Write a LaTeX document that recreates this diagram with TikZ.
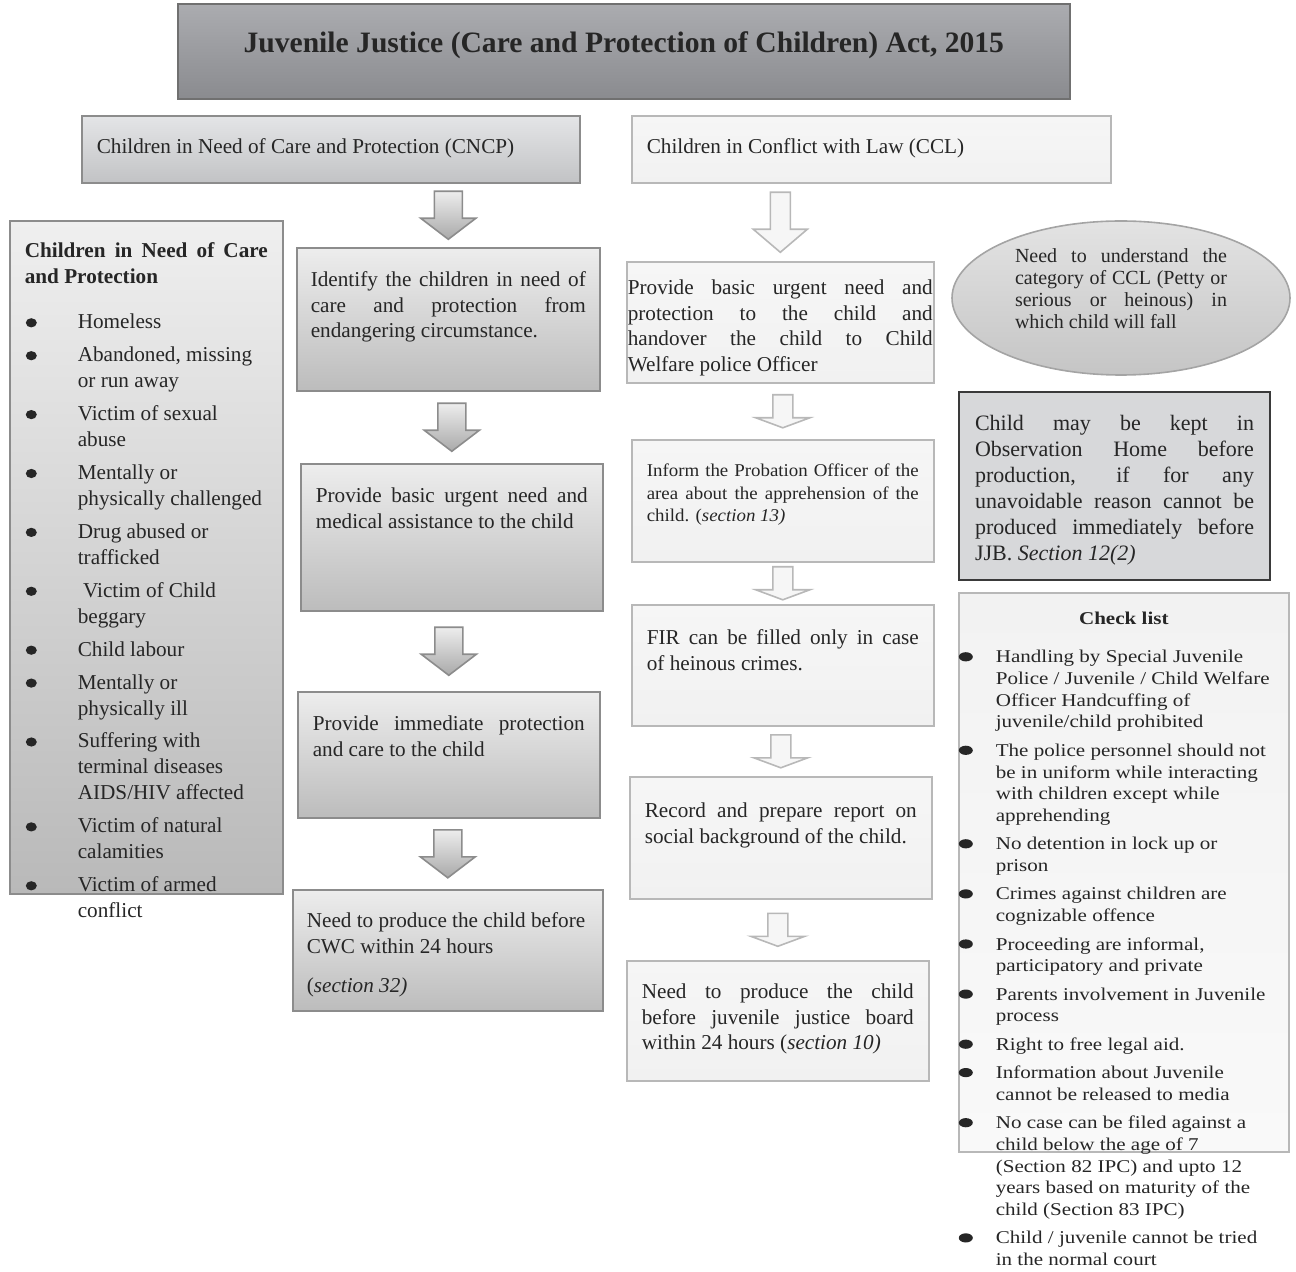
\documentclass[tikz,border=0pt]{standalone}
\usepackage{fontspec}
\setmainfont{Liberation Serif}
\newfontfamily\checkfont[FakeStretch=1.17]{Liberation Serif}
\newfontfamily\informfont[FakeStretch=1.05]{Liberation Serif}
\usepackage{graphicx}
\usepackage{xcolor}
\usetikzlibrary{calc,shapes.geometric}

\definecolor{ink}{HTML}{262626}
\definecolor{titletop}{HTML}{ABACB0}
\definecolor{titlebot}{HTML}{8A8B8F}
\definecolor{headtop}{HTML}{E4E5E7}
\definecolor{headbot}{HTML}{C2C3C5}
\definecolor{listtop}{HTML}{EFEFEF}
\definecolor{listbot}{HTML}{B9B9B9}
\definecolor{greytop}{HTML}{EDEDED}
\definecolor{greybot}{HTML}{BCBCBC}
\definecolor{greyline}{HTML}{8C8C8C}
\definecolor{paletop}{HTML}{F6F6F6}
\definecolor{palebot}{HTML}{F1F1F1}
\definecolor{paleline}{HTML}{B8B8B8}
\definecolor{checktop}{HTML}{F2F2F2}
\definecolor{checkbot}{HTML}{F9F9F9}
\definecolor{ovaltop}{HTML}{E3E3E3}
\definecolor{ovalbot}{HTML}{C5C5C5}
\definecolor{ovalline}{HTML}{A4A4A4}
\definecolor{jjbfill}{HTML}{D7D8DA}
\definecolor{jjbline}{HTML}{3A3A3A}

% text block inside a box: width, height, first baseline, text
\newcommand{\boxtext}[4]{\parbox[c][#2][t]{#1}{\rule{0pt}{#3}#4}}
% big round bullet, x radius given
\newcommand{\dotmark}[1]{\tikz[baseline={(0,-3pt)}]\fill[ink] (0,0) ellipse (#1 and 2.3pt);}
% list items
\newcommand{\listitem}[1]{\par\vspace{3.45pt}\hangindent=26.5pt\hangafter=1\noindent\makebox[26.5pt][l]{\hspace{0.5pt}\dotmark{2.75pt}}#1}
\newcommand{\checkitem}[1]{\par\vspace{3.35pt}\hangindent=18.5pt\hangafter=1\noindent\makebox[18.5pt][l]{\dotmark{3.5pt}}#1}
% block arrow between two boxes: style, from, to, half length, shaft half width, head half width, head length
\newcommand{\blockarrow}[7]{%
  \draw[#1] ($(#3.north |- #2.south)!.5!(#3.north)+(-#5,-#4)$) -- ++(0,2*#4-#7) -- ++(#5-#6,0)
    -- ++(#6,#7) -- ++(#6,-#7) -- ++(#5-#6,0) -- ++(0,-2*#4+#7) -- cycle;}

\tikzset{
  box/.style={draw, anchor=north west, inner ysep=0pt, inner xsep=7.5pt, line width=0.8pt,
    text=ink, font=\fontsize{10.6}{12.75}\selectfont},
  titlebox/.style={box, draw=greyline!80!black, top color=titletop, bottom color=titlebot,
    inner xsep=0pt, font=\bfseries\fontsize{14.8}{17}\selectfont},
  headbox/.style={box, draw=greyline, top color=headtop, bottom color=headbot},
  listbox/.style={box, draw=greyline, top color=listtop, bottom color=listbot},
  greybox/.style={box, draw=greyline, top color=greytop, bottom color=greybot},
  palebox/.style={box, draw=paleline, top color=paletop, bottom color=palebot},
  checkbox/.style={box, draw=paleline, top color=checktop, bottom color=checkbot, inner xsep=0pt},
  jjbbox/.style={box, draw=jjbline, fill=jjbfill, line width=1pt, inner xsep=8pt,
    font=\fontsize{11}{13}\selectfont},
  ovalbox/.style={ellipse, draw=ovalline, line width=0.8pt, top color=ovaltop, bottom color=ovalbot,
    inner sep=0pt, minimum width=169pt, minimum height=77pt, text height=0pt, text depth=0pt,
    text=ink, font=\fontsize{10}{11}\selectfont},
  greyarrow/.style={draw=greyline, line width=0.8pt, top color=greytop, bottom color=greybot!90!black},
  palearrow/.style={draw=paleline, line width=0.8pt, fill=paletop},
}

\begin{document}
\begin{tikzpicture}[x=0.5pt, y=-0.5pt]
\useasboundingbox (0,0) rectangle (1296,1272);

% Title
\node[titlebox] (act) at (177,3) {\boxtext{446pt}{47.5pt}{24.5pt}{\centering Juvenile Justice (Care and Protection of Children) Act, 2015}};

% Two branches
\node[headbox] (cncp) at (81,115) {\boxtext{234pt}{33.5pt}{19pt}{Children in Need of Care and Protection (CNCP)}};
\node[palebox] (ccl) at (631,115) {\boxtext{224.5pt}{33.5pt}{19pt}{Children in Conflict with Law (CCL)}};

% Who is a CNCP
\node[listbox, font=\fontsize{10.6}{13}\selectfont] (cats) at (9,220) {\boxtext{121.5pt}{336.5pt}{18.5pt}{%
  {\bfseries Children in Need of Care\linebreak and Protection}\par\vspace{6.05pt}\raggedright
  \listitem{Homeless}
  \listitem{Abandoned, missing\newline or run away}
  \listitem{Victim of sexual\newline abuse}
  \listitem{Mentally or\newline physically challenged}
  \listitem{Drug abused or\newline trafficked}
  \listitem{\ Victim of Child\newline beggary}
  \listitem{Child labour}
  \listitem{Mentally or\newline physically ill}
  \listitem{Suffering with\newline terminal diseases\newline AIDS/HIV affected}
  \listitem{Victim of natural\newline calamities}
  \listitem{Victim of armed\newline conflict}}};

% CNCP steps
\node[greybox, inner xsep=7pt] (identify) at (296,247) {\boxtext{137.5pt}{71.5pt}{19.5pt}{Identify the children in need of\linebreak care and protection from\linebreak endangering circumstance.}};
\node[greybox] (medical) at (300,463) {\boxtext{136pt}{73.5pt}{19.5pt}{Provide basic urgent need and\linebreak medical assistance to the child}};
\node[greybox] (protect) at (297,691) {\boxtext{136pt}{63pt}{19.5pt}{Provide immediate protection\linebreak and care to the child}};
\node[greybox, inner xsep=7pt] (cwc) at (292,889) {\boxtext{141pt}{60.5pt}{19pt}{Need to produce the child before\\ CWC within 24 hours\\[6.75pt] (\textit{section 32)}}};

% CCL steps
\node[palebox, inner xsep=0.5pt] (handover) at (626,261) {\boxtext{152.5pt}{60.5pt}{16.5pt}{Provide basic urgent need and\linebreak protection to the child and\linebreak handover the child to Child\linebreak Welfare police Officer}};
\node[palebox, font=\informfont\fontsize{9}{11.25}\selectfont] (inform) at (631,439) {\boxtext{136pt}{61pt}{18.5pt}{Inform the Probation Officer of the\linebreak area about the apprehension of the\linebreak child. (\textit{section 13)}}};
\node[palebox] (fir) at (631,604) {\boxtext{136pt}{60.5pt}{20pt}{FIR can be filled only in case\linebreak of heinous crimes.}};
\node[palebox] (record) at (629,776) {\boxtext{136pt}{61pt}{20.5pt}{Record and prepare report on\linebreak social background of the child.}};
\node[palebox] (jjb) at (626,960) {\boxtext{136pt}{60pt}{19pt}{Need to produce the child\linebreak before juvenile justice board\linebreak within 24 hours (\textit{section 10)}}};

% Category of the offence
\node[ovalbox] (category) at (1121,298) {\parbox[c][60pt][t]{106pt}{\rule{0pt}{15pt}Need to understand the\linebreak category of CCL (Petty or\linebreak serious or heinous) in\linebreak which child will fall}};

% Observation home
\node[jjbbox] (observe) at (958,391) {\boxtext{139.5pt}{94pt}{19.5pt}{Child may be kept in\linebreak Observation Home before\linebreak production, if for any\linebreak unavoidable reason cannot be\linebreak produced immediately before\linebreak JJB. \textit{Section 12(2)}}};

% Check list
\node[checkbox, font=\checkfont\fontsize{9}{10.85}\selectfont] (checks) at (958,592) {\boxtext{165pt}{279.5pt}{16pt}{%
  {\centering\bfseries Check list\par}\vspace{4.8pt}\raggedright
  \checkitem{Handling by Special Juvenile\newline Police / Juvenile / Child Welfare\newline Officer Handcuffing of\newline juvenile/child prohibited}
  \checkitem{The police personnel should not\newline be in uniform while interacting\newline with children except while\newline apprehending}
  \checkitem{No detention in lock up or\newline prison}
  \checkitem{Crimes against children are\newline cognizable offence}
  \checkitem{Proceeding are informal,\newline participatory and private}
  \checkitem{Parents involvement in Juvenile\newline process}
  \checkitem{Right to free legal aid.}
  \checkitem{Information about Juvenile\newline cannot be released to media}
  \checkitem{No case can be filed against a\newline child below the age of 7\newline (Section 82 IPC) and upto 12\newline years based on maturity of the\newline child (Section 83 IPC)}
  \checkitem{Child / juvenile cannot be tried\newline in the normal court}}};

% Arrows
\blockarrow{greyarrow}{cncp}{identify}{24}{14}{27.5}{21}
\blockarrow{greyarrow}{identify}{medical}{24}{14}{27.5}{21}
\blockarrow{greyarrow}{medical}{protect}{24}{14}{27.5}{21}
\blockarrow{greyarrow}{protect}{cwc}{24}{14}{27.5}{21}
\blockarrow{palearrow}{ccl}{handover}{30}{10}{27}{23}
\blockarrow{palearrow}{handover}{inform}{16.5}{10}{27}{10}
\blockarrow{palearrow}{inform}{fir}{16.5}{10}{27}{10}
\blockarrow{palearrow}{fir}{record}{16.5}{10}{27}{10}
\blockarrow{palearrow}{record}{jjb}{16.5}{10}{27}{10}

\end{tikzpicture}
\end{document}
